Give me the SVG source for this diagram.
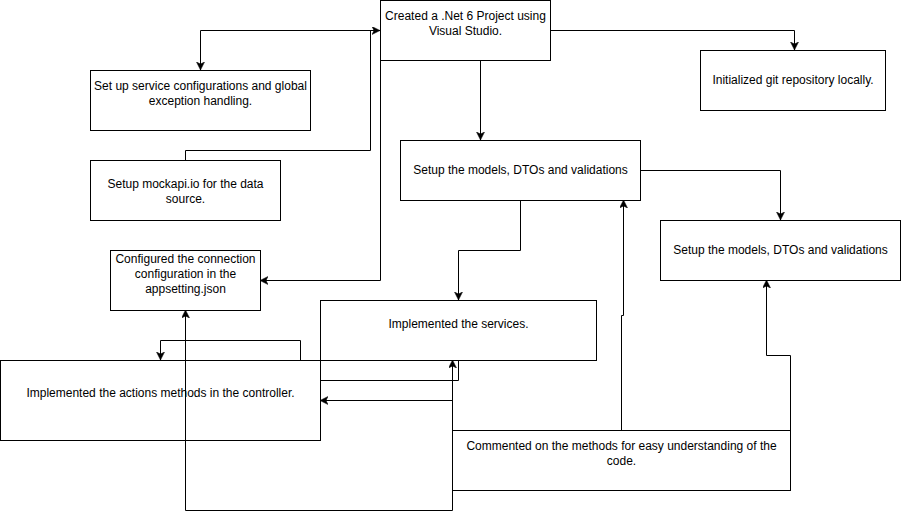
<svg xmlns="http://www.w3.org/2000/svg" width="901" height="519" viewBox="0 0 901 519">
<style>
.box{fill:#fff;stroke:#000;stroke-width:1}
.t{font-family:"Liberation Sans",Arial,sans-serif;font-size:12px;fill:#000;text-anchor:middle}
.c{fill:none;stroke:#000;stroke-width:1}
</style>
<defs>
<marker id="ah" markerWidth="10" markerHeight="10" refX="8" refY="4" orient="auto" markerUnits="userSpaceOnUse">
<path d="M0,0 L8,4 L0,8 L2,4 Z" fill="#000" stroke="#000" stroke-width="0.5"/>
</marker>
</defs>
<rect width="901" height="519" fill="#fff"/>
<g id="connectors">
<path class="c" d="M380,30.5 H200.5 V70" marker-end="url(#ah)"/>
<path class="c" d="M185.5,160 V150.5 H370.5 V30.5 H380" marker-end="url(#ah)"/>
<path class="c" d="M380.5,60 V280.5 H260" marker-end="url(#ah)"/>
<path class="c" d="M550,30.5 H794.5 V50" marker-end="url(#ah)"/>
<path class="c" d="M480.5,60 V140" marker-end="url(#ah)"/>
<path class="c" d="M640,170.5 H780.5 V220" marker-end="url(#ah)"/>
<path class="c" d="M520.5,200 V250.5 H458.5 V300" marker-end="url(#ah)"/>
<path class="c" d="M300.5,360 V340.5 H160.5 V360" marker-end="url(#ah)"/>
<path class="c" d="M320,380.5 H458.5 V360"/>
<path class="c" d="M452.5,430 V360" marker-end="url(#ah)"/>
<path class="c" d="M452.5,430 V400.5 H320" marker-end="url(#ah)"/>
<path class="c" d="M452.5,490 V510.5 H185.5 V310" marker-end="url(#ah)"/>
<path class="c" d="M621.5,430 V315.5 H623.5 V200" marker-end="url(#ah)"/>
<path class="c" d="M790.5,430 V355.5 H766.5 V280" marker-end="url(#ah)"/>
</g>
<g id="node-project">
<rect class="box" x="380.5" y="0.5" width="170" height="60"/>
<text class="t" x="465.5" y="20">Created a .Net 6 Project using</text>
<text class="t" x="465.5" y="35">Visual Studio.</text>
</g>
<g id="node-service-config">
<rect class="box" x="90.5" y="70.5" width="220" height="60"/>
<text class="t" x="200.5" y="90">Set up service configurations and global</text>
<text class="t" x="200.5" y="105">exception handling.</text>
</g>
<g id="node-mockapi">
<rect class="box" x="90.5" y="160.5" width="190" height="60"/>
<text class="t" x="185.5" y="188">Setup mockapi.io for the data</text>
<text class="t" x="185.5" y="203">source.</text>
</g>
<g id="node-configured">
<rect class="box" x="110.5" y="250.5" width="150" height="60"/>
<text class="t" x="185.5" y="263">Configured the connection</text>
<text class="t" x="185.5" y="278">configuration in the</text>
<text class="t" x="185.5" y="293">appsetting.json</text>
</g>
<g id="node-git">
<rect class="box" x="700.5" y="50.5" width="185" height="60"/>
<text class="t" x="793" y="84">Initialized git repository locally.</text>
</g>
<g id="node-setup1">
<rect class="box" x="400.5" y="140.5" width="240" height="60"/>
<text class="t" x="520.5" y="174">Setup the models, DTOs and validations</text>
</g>
<g id="node-setup2">
<rect class="box" x="660.5" y="220.5" width="240" height="60"/>
<text class="t" x="780.5" y="254">Setup the models, DTOs and validations</text>
</g>
<g id="node-services" >
<rect class="box" x="320.5" y="300.5" width="276" height="60" fill-opacity="0"/>
<text class="t" x="458.5" y="328">Implemented the services.</text>
</g>
<g id="node-actions">
<rect class="box" x="0.5" y="360.5" width="320" height="80" style="fill:none"/>
<text class="t" x="160.5" y="397">Implemented the actions methods in the controller.</text>
</g>
<g id="node-commented">
<rect class="box" x="452.5" y="430.5" width="338" height="60" style="fill:none"/>
<text class="t" x="621.5" y="450">Commented on the methods for easy understanding of the</text>
<text class="t" x="621.5" y="465">code.</text>
</g>
</svg>
